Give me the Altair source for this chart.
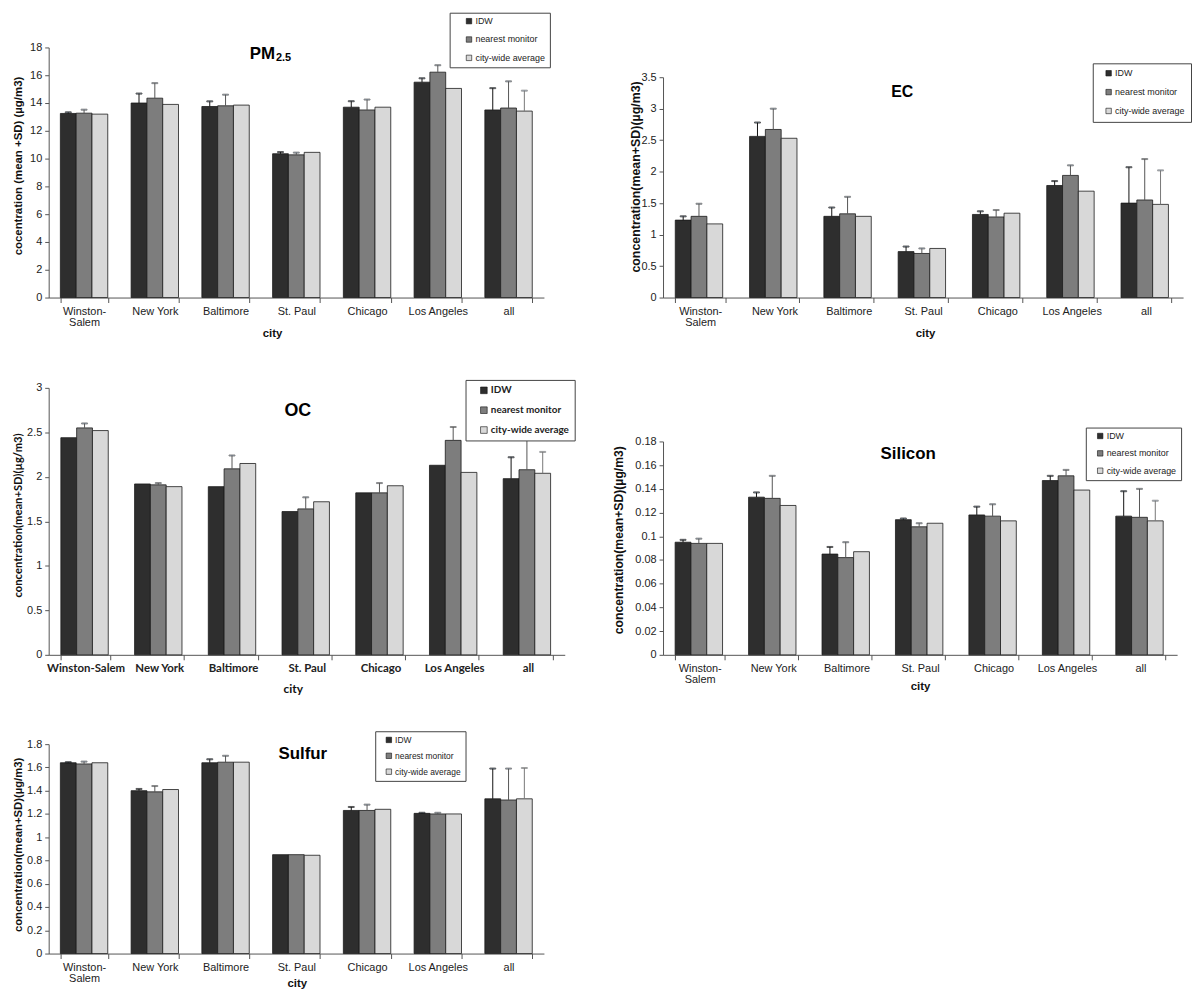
import altair as alt
import pandas as pd

cities = ["Winston-Salem", "New York", "Baltimore", "St. Paul", "Chicago", "Los Angeles", "all"]
series = ["IDW", "nearest monitor", "city-wide average"]
bar_colors = ["#2e2e2e", "#7d7d7d", "#d8d8d8"]
err_colors = ["#111111", "#555555", "#777777"]

# PM2.5
pm_idw = [13.25, 14.0, 13.75, 10.35, 13.7, 15.5, 13.5]
pm_idw_sd = [0.08, 0.68, 0.37, 0.12, 0.43, 0.28, 1.57]
pm_near = [13.27, 14.35, 13.8, 10.27, 13.5, 16.22, 13.64]
pm_near_sd = [0.25, 1.08, 0.8, 0.16, 0.75, 0.5, 1.92]
pm_city = [13.2, 13.9, 13.85, 10.45, 13.7, 15.05, 13.42]
pm_city_sd = [0, 0, 0, 0, 0, 0, 1.47]
pm_ticks = [0, 2, 4, 6, 8, 10, 12, 14, 16, 18]

# EC
ec_idw = [1.23, 2.56, 1.29, 0.73, 1.32, 1.78, 1.50]
ec_idw_sd = [0.06, 0.22, 0.14, 0.08, 0.05, 0.07, 0.57]
ec_near = [1.29, 2.67, 1.33, 0.70, 1.28, 1.94, 1.55]
ec_near_sd = [0.20, 0.33, 0.27, 0.08, 0.11, 0.16, 0.65]
ec_city = [1.17, 2.53, 1.29, 0.78, 1.34, 1.69, 1.48]
ec_city_sd = [0, 0, 0, 0, 0, 0, 0.54]
ec_ticks = [0, 0.5, 1, 1.5, 2, 2.5, 3, 3.5]

# OC
oc_idw = [2.44, 1.92, 1.89, 1.61, 1.82, 2.13, 1.98]
oc_idw_sd = [0, 0, 0, 0, 0, 0, 0.24]
oc_near = [2.55, 1.91, 2.09, 1.64, 1.82, 2.41, 2.08]
oc_near_sd = [0.05, 0.02, 0.15, 0.13, 0.11, 0.15, 0.34]
oc_city = [2.52, 1.89, 2.15, 1.72, 1.90, 2.05, 2.04]
oc_city_sd = [0, 0, 0, 0, 0, 0, 0.24]
oc_ticks = [0, 0.5, 1, 1.5, 2, 2.5, 3]

# Silicon
si_idw = [0.095, 0.133, 0.085, 0.114, 0.118, 0.147, 0.117]
si_idw_sd = [0.002, 0.004, 0.006, 0.001, 0.007, 0.004, 0.021]
si_near = [0.094, 0.132, 0.082, 0.108, 0.117, 0.151, 0.116]
si_near_sd = [0.004, 0.019, 0.013, 0.003, 0.010, 0.005, 0.024]
si_city = [0.094, 0.126, 0.087, 0.111, 0.113, 0.139, 0.113]
si_city_sd = [0, 0, 0, 0, 0, 0, 0.017]
si_ticks = [0, 0.02, 0.04, 0.06, 0.08, 0.1, 0.12, 0.14, 0.16, 0.18]

# Sulfur
su_idw = [1.64, 1.40, 1.64, 0.85, 1.23, 1.205, 1.33]
su_idw_sd = [0.005, 0.015, 0.03, 0, 0.03, 0.005, 0.26]
su_near = [1.63, 1.39, 1.645, 0.85, 1.23, 1.20, 1.32]
su_near_sd = [0.02, 0.05, 0.055, 0, 0.05, 0.01, 0.27]
su_city = [1.64, 1.41, 1.645, 0.845, 1.24, 1.20, 1.33]
su_city_sd = [0, 0, 0, 0, 0, 0, 0.265]
su_ticks = [0, 0.2, 0.4, 0.6, 0.8, 1, 1.2, 1.4, 1.6, 1.8]

ARIAL = "Liberation Sans"
CALIBRI = "Lato"


def make_df(vals, sds):
    rows = []
    for s, v, sd in zip(series, vals, sds):
        for c, a, b in zip(cities, v, sd):
            rows.append(dict(city=c, series=s, value=a, sd=b, upper=round(a + b, 5)))
    return pd.DataFrame(rows)


def text_layer(txt, x, y, size, align="center"):
    return alt.Chart(pd.DataFrame({"t": [txt]})).mark_text(
        text=txt, font=ARIAL, fontSize=size, fontWeight="bold", align=align,
        baseline="alphabetic", color="black"
    ).encode(x=alt.value(x), y=alt.value(y))


def panel(df, w, h, ytop, ymax, ticks, ytitle, ytx, yty, ytsize, xtx, xty,
          leg, titles, oc=False):
    lab_font = CALIBRI if oc else ARIAL
    lab_weight = "bold" if oc else "normal"
    xscale = alt.Scale(domain=cities, paddingInner=0.33, paddingOuter=0.165)
    xaxis = alt.Axis(
        title="city", titleFont=lab_font, titleFontSize=12 if oc else 11.5,
        titleFontWeight="bold", titleColor="#111", titleX=xtx, titleY=xty,
        titleBaseline="middle", labelFont=lab_font, labelFontWeight=lab_weight,
        labelFontSize=11.5 if oc else 11, labelColor="#222", labelAngle=0,
        labelPadding=3, labelBaseline="top", labelLineHeight=11,
        labelExpr=("datum.label" if oc else
                   "datum.value == 'Winston-Salem' ? ['Winston-', 'Salem'] : datum.label"),
        tickSize=5, tickBand="extent", domainColor="#555", tickColor="#555",
        labelLimit=200, labelOverlap=False,
    )
    yscale = alt.Scale(domain=[0, ymax], range=[h, ytop], nice=False, zero=True)
    yaxis = alt.Axis(
        values=ticks, tickCount=len(ticks) + 2, format="~g", title=ytitle,
        titleX=ytx, titleY=yty,
        titleBaseline="middle", titleFont=lab_font, titleFontWeight="bold",
        titleFontSize=ytsize, titleColor="#111", labelFont=ARIAL, labelFontSize=11,
        labelColor="#222", tickSize=4, labelPadding=3, domainColor="#555",
        tickColor="#555", grid=False, labelOverlap=False, labelFlush=False,
    )
    xo = alt.XOffset("series:N", scale=alt.Scale(domain=series, paddingInner=0, paddingOuter=0),
                     sort=series)
    legend = alt.Legend(
        title=None, orient="none", legendX=leg["x"], legendY=leg["y"], direction="vertical",
        strokeColor="#444", fillColor="white", padding=leg["pad"], symbolType="square",
        symbolSize=leg.get("ss", 30), symbolStrokeColor="#111", symbolStrokeWidth=0.6,
        symbolOffset=leg["so"], labelFont=lab_font, labelFontWeight=lab_weight,
        labelFontSize=leg["fs"], labelColor="#222", rowPadding=leg["rp"], labelOffset=2,
    )
    bars = alt.Chart(df).mark_bar(stroke="#1a1a1a", strokeWidth=0.8).encode(
        x=alt.X("city:N", scale=xscale, sort=cities, axis=xaxis),
        xOffset=xo,
        y=alt.Y("value:Q", scale=yscale, axis=yaxis),
        color=alt.Color("series:N", scale=alt.Scale(domain=series, range=bar_colors),
                        sort=series, legend=legend),
    )
    err = df[df["sd"] > 0]
    stroke = alt.Stroke("series:N", scale=alt.Scale(domain=series, range=err_colors), legend=None)
    rules = alt.Chart(err).mark_rule(strokeWidth=1).encode(
        x=alt.X("city:N", scale=xscale, sort=cities), xOffset=xo,
        y=alt.Y("value:Q", scale=yscale), y2="upper:Q", stroke=stroke,
    )
    caps = alt.Chart(err).mark_tick(size=6, thickness=1, orient="horizontal").encode(
        x=alt.X("city:N", scale=xscale, sort=cities), xOffset=xo,
        y=alt.Y("upper:Q", scale=yscale), stroke=stroke,
    )
    layers = [bars, rules, caps] + titles
    return alt.layer(*layers).properties(width=w, height=h).resolve_scale(stroke="independent")


pm = panel(make_df([pm_idw, pm_near, pm_city], [pm_idw_sd, pm_near_sd, pm_city_sd]),
           499, 252, 0, 18, pm_ticks, "cocentration (mean +SD)  (µg/m3)", -30, 119, 11.5,
           225, 36, dict(x=404, y=-35, pad=4, rp=8.5, fs=9, so=11),
           [text_layer("PM", 228, 12, 17, "right"), text_layer("2.5", 229, 14, 11, "left")])

ec = panel(make_df([ec_idw, ec_near, ec_city], [ec_idw_sd, ec_near_sd, ec_city_sd]),
           524, 252, 30, 3.5, ec_ticks, "concentration(mean+SD)(µg/m3)", -28, 130, 12.5,
           264, 36, dict(x=433, y=16, pad=5.5, rp=9, fs=9, so=6),
           [text_layer("EC", 241, 50, 16)])

oc = panel(make_df([oc_idw, oc_near, oc_city], [oc_idw_sd, oc_near_sd, oc_city_sd]),
           520, 270, 1, 3, oc_ticks, "concentration(mean+SD)(µg/m3)", -30, 129, 11.3,
           246, 34, dict(x=420, y=-7, pad=5.5, rp=10, fs=10, so=8, ss=45),
           [text_layer("OC", 251, 29, 18)], oc=True)

si = panel(make_df([si_idw, si_near, si_city], [si_idw_sd, si_near_sd, si_city_sd]),
           518, 270, 55, 0.18, si_ticks, "concentration(mean+SD)(µg/m3)", -45, 154, 12.3,
           259, 32, dict(x=426, y=41, pad=4, rp=7.5, fs=9, so=6),
           [text_layer("Silicon", 247, 73, 17)])

su = panel(make_df([su_idw, su_near, su_city], [su_idw_sd, su_near_sd, su_city_sd]),
           499, 211, 0, 1.8, su_ticks, "concentration(mean+SD)(µg/m3)", -30, 101, 11.4,
           250, 30, dict(x=329, y=-13, pad=4.5, rp=7, fs=8.5, so=5),
           [text_layer("Sulfur", 256, 15, 17)])

chart = alt.concat(pm, ec, oc, si, su, columns=2, spacing={"row": 90, "column": 99},
                   bounds="flush").resolve_scale(
    color="independent", stroke="independent"
).resolve_legend(color="independent").properties(
    padding={"left": 4, "top": 0, "right": 0, "bottom": 0}
).configure_view(stroke=None)

chart.save("out.html", embed_options={"renderer": "svg", "actions": False})
